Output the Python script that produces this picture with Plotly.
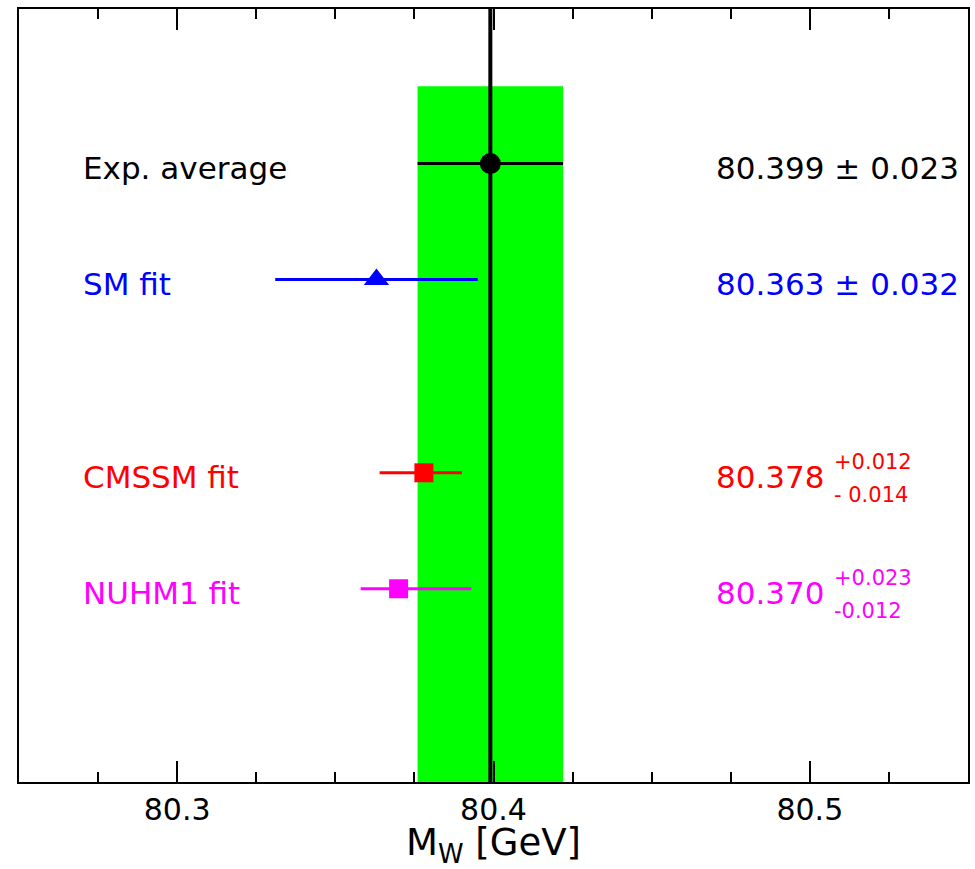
import plotly.graph_objects as go

# W-boson mass: experimental average and fit predictions (GeV)
labels = ["Exp. average", "SM fit", "CMSSM fit", "NUHM1 fit"]
colors = ["#000000", "#0000ff", "#ff0000", "#ff00ff"]
symbols = ["circle", "triangle-up", "square", "square"]
mw_values = [80.399, 80.363, 80.378, 80.370]
err_plus = [0.023, 0.032, 0.012, 0.023]
err_minus = [0.023, 0.032, 0.014, 0.012]
row_y = [8.0, 6.5, 4.0, 2.5]

x_ticks = [80.3, 80.4, 80.5]
x_range = [80.25, 80.55]
y_range = [0, 10]
band_top = 9.0

FONT = "DejaVu Sans"
marker_sizes = [21, 22, 19, 19]

fig = go.Figure()

# experimental 1-sigma band
exp_val, exp_err = mw_values[0], err_plus[0]
fig.add_shape(type="rect", xref="x", yref="y",
              x0=exp_val - err_minus[0], x1=exp_val + exp_err,
              y0=y_range[0], y1=band_top,
              fillcolor="#00ff00", line=dict(width=0), layer="below")

# vertical reference line at the experimental central value
fig.add_trace(go.Scatter(x=[exp_val, exp_val], y=y_range, mode="lines",
                         line=dict(color="black", width=4),
                         showlegend=False, hoverinfo="skip"))

for lab, col, sym, val, ep, em, yy, ms in zip(labels, colors, symbols, mw_values,
                                             err_plus, err_minus, row_y, marker_sizes):
    fig.add_trace(go.Scatter(
        x=[val], y=[yy], mode="markers", name=lab,
        marker=dict(symbol=sym, size=ms, color=col, line=dict(width=0)),
        error_x=dict(type="data", symmetric=False, array=[ep], arrayminus=[em],
                     color=col, thickness=3, width=0),
        showlegend=False))

annotations = []
label_x = 80.2695
value_x = 80.4698
script_x = 80.5069
for lab, col, val, ep, em, yy in zip(labels, colors, mw_values, err_plus, err_minus, row_y):
    annotations.append(dict(x=label_x, y=yy, text=lab, xanchor="left", yanchor="middle",
                            showarrow=False, yshift=-4,
                            font=dict(family=FONT, size=31, color=col)))
    if abs(ep - em) < 1e-9:
        annotations.append(dict(x=value_x, y=yy, text=f"{val:.3f} \u00b1 {ep:.3f}",
                                xanchor="left", yanchor="middle", showarrow=False, yshift=-4,
                                font=dict(family=FONT, size=31, color=col)))
    else:
        annotations.append(dict(x=value_x, y=yy, text=f"{val:.3f}",
                                xanchor="left", yanchor="middle", showarrow=False, yshift=-4,
                                font=dict(family=FONT, size=31, color=col)))
        annotations.append(dict(x=script_x, y=yy, text=f"+{ep:.3f}",
                                xanchor="left", yanchor="middle", showarrow=False, yshift=11,
                                font=dict(family=FONT, size=21, color=col)))
        minus_txt = f"- {em:.3f}" if lab.startswith("CMSSM") else f"-{em:.3f}"
        annotations.append(dict(x=script_x, y=yy, text=minus_txt,
                                xanchor="left", yanchor="middle", showarrow=False, yshift=-22,
                                font=dict(family=FONT, size=21, color=col)))

fig.update_layout(
    width=975, height=869,
    margin=dict(l=19, r=5, t=9, b=87),
    paper_bgcolor="white", plot_bgcolor="white",
    annotations=annotations,
    xaxis=dict(range=x_range, tickvals=x_ticks, ticktext=[f"{t:.1f}" for t in x_ticks],
               ticks="inside", ticklen=21, tickwidth=2, tickcolor="black",
               showline=True, linewidth=2, linecolor="black", mirror="ticks",
               showgrid=False, zeroline=False,
               minor=dict(dtick=0.025, ticks="inside", ticklen=10, tickwidth=2,
                          tickcolor="black", showgrid=False),
               tickfont=dict(family=FONT, size=30, color="black"),
               ticklabelstandoff=0,
               title=dict(text="M<sub>W</sub> [GeV]", standoff=7,
                          font=dict(family=FONT, size=37, color="black"))),
    yaxis=dict(range=y_range, showticklabels=False, ticks="", showgrid=False,
               zeroline=False, showline=True, linewidth=2, linecolor="black", mirror=True),
)

fig.write_html("out.html")
